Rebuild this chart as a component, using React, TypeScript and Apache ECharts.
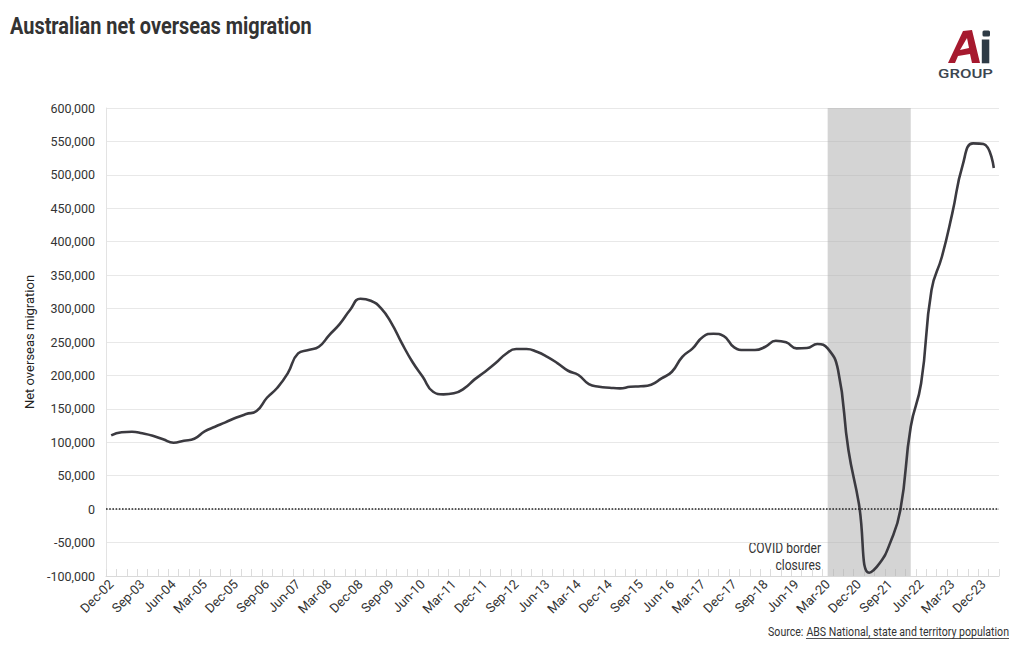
import React, { useEffect, useRef } from "react";
import * as echarts from "echarts";

// Quarterly categories, Dec-02 .. Mar-24
const quarterNames = ["Mar", "Jun", "Sep", "Dec"];
const firstYear = 2002;
const quarterCount = 86;
const categories: string[] = [];
for (let i = 0; i < quarterCount; i++) {
  const q = (3 + i) % 4;
  const y = firstYear + Math.floor((3 + i) / 4);
  categories.push(`${quarterNames[q]}-${String(y % 100).padStart(2, "0")}`);
}

// Net overseas migration (annual, year ending each quarter)
const netMigration: number[] = [
  110400, 114900, 115800, 113400, 109800, 104400, 99300, 102300, 105300, 116300,
  123200, 129800, 136700, 142200, 146700, 166600, 181600, 203100, 233000, 238000,
  242900, 260400, 276800, 297800, 314700, 311700, 300300, 277900, 247900, 220500,
  198000, 175600, 171700, 173200, 180700, 194100, 205500, 218100, 232000, 239500,
  239500, 235400, 227900, 218100, 207000, 200600, 187100, 183100, 181600, 180600,
  183100, 183700, 186100, 195600, 205500, 227900, 240500, 257900, 262400, 258900,
  242000, 238000, 238000, 242900, 251900, 249500, 240500, 241000, 246900, 240500,
  208000, 88400, 8700, -95100, -81100, -51200, -1300, 123200, 188200, 327700,
  377500, 442400, 514600, 547100, 546100, 510200,
];

const covidStart = "Mar-20";
const covidEnd = "Mar-22";
const covidLabel = "COVID border\nclosures";

const yMin = -100000;
const yMax = 600000;
const yStep = 50000;

const titleText = "Australian net overseas migration";
const yAxisName = "Net overseas migration";
const sourcePrefix = "Source: ";
const sourceLink = "ABS National, state and territory population";

function measure(text: string, font: string): number {
  const c = document.createElement("canvas").getContext("2d");
  if (!c) return text.length * 6;
  c.font = font;
  return c.measureText(text).width;
}

export default function App() {
  const ref = useRef<HTMLDivElement>(null);
  useEffect(() => {
    if (!ref.current) return;
    const chart = echarts.init(ref.current, undefined, { renderer: "svg" });

    const titleW = measure(titleText, "bold 23px Roboto");
    const titleScale = 302 / titleW;
    const srcPreW = measure(sourcePrefix, "12px Roboto");
    const srcLinkW = measure(sourceLink, "12px Roboto");
    const srcScale = 241 / (srcPreW + srcLinkW);
    const groupW = measure("GROUP", "500 12.5px Roboto");
    const groupScale = 55 / groupW;

    const red = "#a6192e";
    const slate = "#2e3a45";

    chart.setOption({
      animation: false,
      textStyle: { fontFamily: "Roboto" },
      grid: { left: 106, right: 21, top: 108, bottom: 74, containLabel: false },
      xAxis: {
        type: "category",
        data: categories,
        boundaryGap: true,
        axisLine: { show: true, onZero: false, lineStyle: { color: "#d9d9d9" } },
        axisTick: { show: true, inside: true, interval: 0, length: 7, lineStyle: { color: "#dcdcdc" } },
        axisLabel: { interval: 2, rotate: 45, fontSize: 13, color: "#333", fontFamily: "Roboto", margin: 6 },
        splitLine: { show: false },
      },
      yAxis: {
        type: "value",
        min: yMin,
        max: yMax,
        interval: yStep,
        name: yAxisName,
        nameLocation: "middle",
        nameGap: 68,
        nameRotate: 90,
        nameTextStyle: { fontSize: 13, color: "#222", fontFamily: "Roboto" },
        axisLine: { show: true, lineStyle: { color: "#e3e3e3" } },
        axisTick: { show: false },
        axisLabel: {
          formatter: (v: number) => v.toLocaleString("en-US"),
          fontSize: 12.5,
          color: "#333",
          fontFamily: "Roboto",
          margin: 11,
        },
        splitLine: { lineStyle: { color: "#e8e8e8" } },
      },
      series: [
        {
          type: "line",
          data: netMigration,
          smooth: true,
          symbol: "none",
          lineStyle: { color: "#3b3a40", width: 2.6 },
          markArea: {
            silent: true,
            itemStyle: { color: "rgba(170,170,170,0.5)" },
            data: [[{ xAxis: covidStart }, { xAxis: covidEnd }]],
          },
          markLine: {
            silent: true,
            symbol: "none",
            label: { show: false },
            lineStyle: { color: "#222", type: "dotted", width: 1.6 },
            data: [{ yAxis: 0 }],
          },
        },
      ],
      graphic: [
        {
          type: "group",
          x: 10,
          y: 25.5,
          scaleX: titleScale,
          children: [
            {
              type: "text",
              style: {
                text: titleText,
                fontSize: 23,
                fontWeight: "bold",
                fontFamily: "Roboto",
                fill: "#333",
                align: "left",
                verticalAlign: "middle",
              },
            },
          ],
        },
        {
          type: "group",
          x: 821,
          y: 540,
          scaleX: 0.86,
          children: [
            {
              type: "text",
              style: {
                text: covidLabel,
                fontSize: 14,
                lineHeight: 17,
                fontFamily: "Roboto",
                fill: "#333",
                align: "right",
                verticalAlign: "top",
              },
            },
          ],
        },
        {
          type: "group",
          x: 1009,
          y: 632,
          scaleX: srcScale,
          children: [
            {
              type: "text",
              x: -srcLinkW,
              style: {
                text: sourcePrefix,
                fontSize: 12,
                fontFamily: "Roboto",
                fill: "#333",
                align: "right",
                verticalAlign: "middle",
              },
            },
            {
              type: "text",
              x: 0,
              style: {
                text: sourceLink,
                fontSize: 12,
                fontFamily: "Roboto",
                fill: "#333",
                align: "right",
                verticalAlign: "middle",
              },
            },
            {
              type: "line",
              shape: { x1: -srcLinkW, y1: 6.5, x2: 0, y2: 6.5 },
              style: { stroke: "#333", lineWidth: 0.9 },
            },
          ],
        },
        // Logo
        {
          type: "polygon",
          shape: { points: [[948, 63], [963, 31], [972, 30], [980, 63], [972, 63], [970, 54], [958, 56], [955, 63]] },
          style: { fill: red },
        },
        {
          type: "polygon",
          shape: { points: [[960, 50], [969, 48], [967, 38]] },
          style: { fill: "#fff" },
        },
        {
          type: "rect",
          shape: { x: 982.5, y: 30.5, width: 7.5, height: 6, r: 1.5 },
          style: { fill: slate },
        },
        {
          type: "rect",
          shape: { x: 981.8, y: 39.5, width: 7.5, height: 23.8 },
          style: { fill: slate },
        },
        {
          type: "group",
          x: 938,
          y: 73.5,
          scaleX: groupScale,
          children: [
            {
              type: "text",
              style: {
                text: "GROUP",
                fontSize: 12.5,
                fontWeight: 500,
                fontFamily: "Roboto",
                fill: "#3c4650",
                align: "left",
                verticalAlign: "middle",
              },
            },
          ],
        },
      ],
    });
    return () => chart.dispose();
  }, []);
  return (
    <div
      ref={ref}
      style={{ position: "fixed", left: 0, top: 0, width: 1020, height: 650, background: "#fff" }}
    />
  );
}
